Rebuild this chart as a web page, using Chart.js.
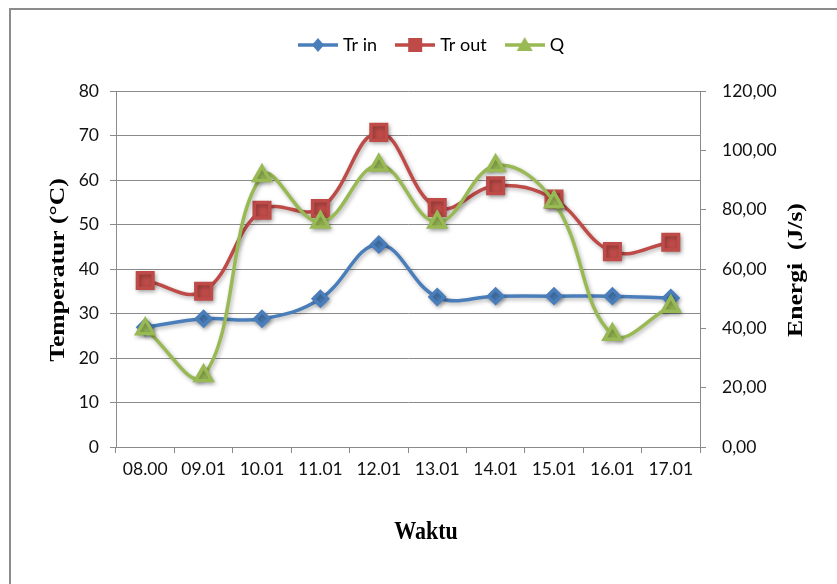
<!DOCTYPE html>
<html><head><meta charset="utf-8">
<script src="https://cdn.jsdelivr.net/npm/chart.js@4.4.0/dist/chart.umd.min.js"></script>
<style>
html,body{margin:0;padding:0;background:#fff;}
#wrap{position:relative;width:837px;height:584px;overflow:hidden;}
#frame{position:absolute;left:9px;top:8px;width:900px;height:700px;border:2px solid #8c8c8c;box-sizing:border-box;}
canvas{position:absolute;left:0;top:0;}
</style></head><body>
<div id="wrap"><div id="frame"></div><canvas id="c" width="837" height="584"></canvas></div>
<script>
const categories = ['08.00','09.01','10.01','11.01','12.01','13.01','14.01','15.01','16.01','17.01'];
const trIn  = [26.9, 28.8, 28.8, 33.3, 45.5, 33.7, 33.9, 33.9, 33.9, 33.5];
const trOut = [37.4, 35.0, 53.2, 53.6, 70.7, 53.8, 58.7, 55.7, 43.9, 46.0];
const qEnergy = [39.8, 24.0, 91.4, 75.8, 95.0, 75.8, 94.8, 82.6, 37.9, 47.4];
const leftTickLabels = ['0','10','20','30','40','50','60','70','80'];
const rightTickLabels = ['0,00','20,00','40,00','60,00','80,00','100,00','120,00'];
const seriesNames = ['Tr in','Tr out','Q'];
const leftTitle = 'Temperatur (\u00B0C)';
const rightTitle = 'Energi  (J/s)';
const bottomTitle = 'Waktu';

const BLUE = '#4A7EBB', RED = '#BE4B48', GREEN = '#98B954';
const GRID = '#8a8a8a';
const tickFont = {family: 'Lato', size: 17.5};

function makeIcon(color, shape) {
  const c = document.createElement('canvas');
  c.width = 40; c.height = 18;
  const g = c.getContext('2d');
  g.strokeStyle = color; g.lineWidth = 3.5;
  g.beginPath(); g.moveTo(0, 9); g.lineTo(40, 9); g.stroke();
  g.fillStyle = color;
  g.beginPath();
  if (shape === 'diamond') { g.moveTo(20, 2); g.lineTo(26, 9); g.lineTo(20, 16); g.lineTo(14, 9); }
  else if (shape === 'square') { g.rect(13, 2, 14, 14); }
  else { g.moveTo(20, 1); g.lineTo(28, 15); g.lineTo(12, 15); }
  g.closePath(); g.fill();
  return c;
}
const legendIcons = [makeIcon(BLUE,'diamond'), makeIcon(RED,'square'), makeIcon(GREEN,'triangle')];

const legendSpacer = {
  id: 'legendSpacer',
  beforeLayout(chart) {
    const lg = chart.legend;
    if (lg && !lg._spaced) {
      const f = lg.fit;
      lg.fit = function () { f.call(this); this.height += 27; };
      lg._spaced = true;
    }
  }
};

const shadowPlugin = {
  id: 'lineShadow',
  beforeDatasetsDraw(chart) {
    const ctx = chart.ctx; ctx.save();
    ctx.shadowColor = 'rgba(0,0,0,0.3)'; ctx.shadowBlur = 4; ctx.shadowOffsetX = 1.5; ctx.shadowOffsetY = 2;
  },
  afterDatasetsDraw(chart) { chart.ctx.restore(); }
};

const titlesPlugin = {
  id: 'axisTitles',
  afterDraw(chart) {
    const ctx = chart.ctx;
    ctx.save();
    ctx.fillStyle = '#000'; ctx.textAlign = 'center'; ctx.textBaseline = 'middle';
    ctx.font = 'bold 21px "Liberation Serif"';
    ctx.save(); ctx.translate(59, 270); ctx.rotate(-Math.PI / 2); ctx.scale(1.22, 1); ctx.fillText(leftTitle, 0, 0); ctx.restore();
    ctx.save(); ctx.translate(797, 270); ctx.rotate(-Math.PI / 2); ctx.scale(1.22, 1); ctx.fillText(rightTitle, 0, 0); ctx.restore();
    ctx.font = 'bold 22px "Liberation Serif"';
    ctx.save(); ctx.translate(426, 533); ctx.scale(1, 1.12); ctx.fillText(bottomTitle, 0, 0); ctx.restore();
    ctx.restore();
  }
};

new Chart(document.getElementById('c'), {
  type: 'line',
  data: {
    labels: categories,
    datasets: [
      {label: seriesNames[0], data: trIn, yAxisID: 'y', borderColor: BLUE, backgroundColor: BLUE,
       pointStyle: 'rectRot', pointRadius: 7, pointHoverRadius: 7, borderWidth: 3.5, tension: 0.4, order: 3},
      {label: seriesNames[1], data: trOut, yAxisID: 'y', borderColor: RED, backgroundColor: RED,
       pointStyle: 'rect', pointRadius: 11, pointHoverRadius: 11, borderWidth: 3.5, tension: 0.4, order: 2},
      {label: seriesNames[2], data: qEnergy, yAxisID: 'y1', borderColor: GREEN, backgroundColor: GREEN,
       pointStyle: 'triangle', pointRadius: 9.5, pointHoverRadius: 9.5, borderWidth: 3.5, tension: 0.4, order: 1}
    ]
  },
  options: {
    responsive: false,
    animation: false,
    devicePixelRatio: 1,
    layout: {padding: {left: 29, top: 14, right: 0, bottom: 0}},
    plugins: {
      tooltip: {enabled: false},
      legend: {
        position: 'top',
        labels: {
          usePointStyle: true, pointStyleWidth: 32, padding: 22,
          font: {family: 'Lato', size: 18}, color: '#111',
          generateLabels(chart) {
            return chart.data.datasets.map((ds, i) => ({
              text: ds.label, pointStyle: legendIcons[i], fillStyle: ds.borderColor,
              strokeStyle: ds.borderColor, lineWidth: 0, hidden: false, datasetIndex: i
            }));
          }
        }
      }
    },
    scales: {
      x: {
        type: 'category', offset: true,
        grid: {offset: true, drawOnChartArea: false, tickLength: 6, color: GRID},
        border: {color: GRID},
        ticks: {font: tickFont, color: '#111', padding: 6, maxRotation: 0, autoSkip: false},
        afterFit(s) { s.height = 137; }
      },
      y: {
        position: 'left', min: 0, max: 80,
        grid: {color: GRID, tickLength: 6},
        border: {color: GRID},
        ticks: {stepSize: 10, padding: 11, font: tickFont, color: '#111',
                callback: (v, i) => leftTickLabels[i]},
        afterFit(s) { s.width = 87; }
      },
      y1: {
        position: 'right', min: 0, max: 120,
        grid: {drawOnChartArea: false, color: GRID, tickLength: 6},
        border: {color: GRID},
        ticks: {stepSize: 20, padding: 16, font: tickFont, color: '#111',
                callback: (v, i) => rightTickLabels[i]},
        afterFit(s) { s.width = 137; }
      }
    }
  },
  plugins: [legendSpacer, shadowPlugin, titlesPlugin]
});
</script>
</body></html>
